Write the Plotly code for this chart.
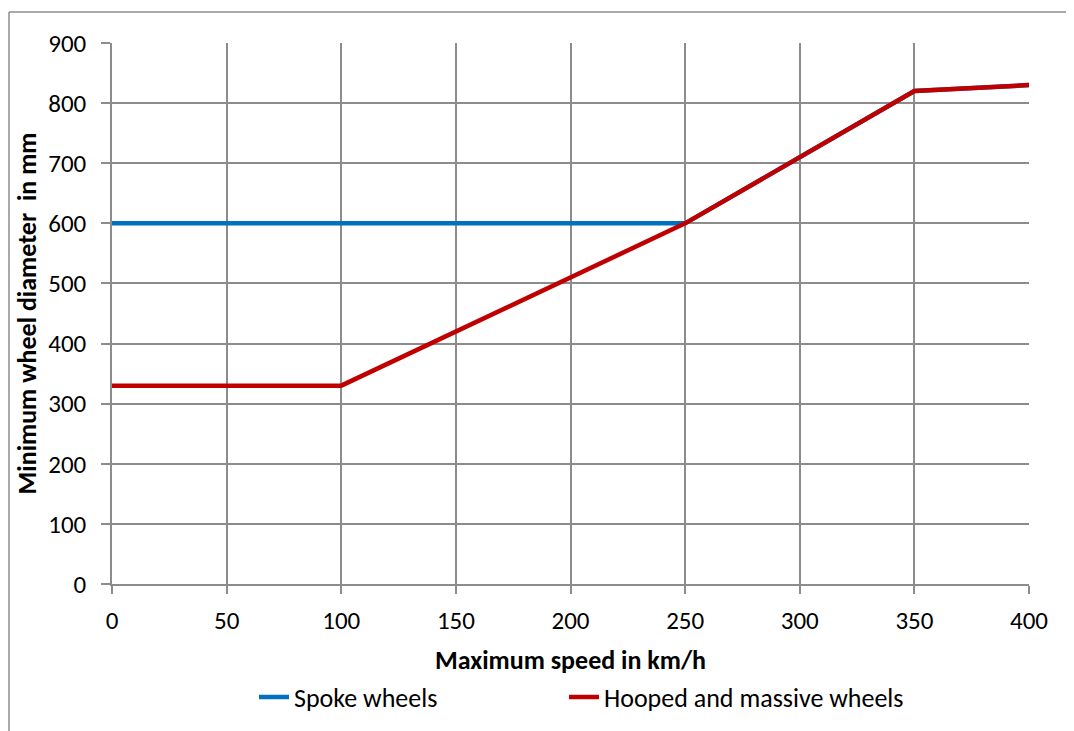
import plotly.graph_objects as go

speed_spoke = [0, 250, 300, 350, 400]
diam_spoke = [600, 600, 710, 820, 830]
speed_hooped = [0, 100, 250, 300, 350, 400]
diam_hooped = [330, 330, 600, 710, 820, 830]
x_ticks = [0, 50, 100, 150, 200, 250, 300, 350, 400]
y_ticks = [0, 100, 200, 300, 400, 500, 600, 700, 800, 900]

FONT = "Carlito, Lato, sans-serif"
GRID = "#8c8c8c"
FS = 25

fig = go.Figure()
fig.add_trace(go.Scatter(x=speed_spoke, y=diam_spoke, mode="lines", name="Spoke wheels",
                         line=dict(color="#0070C0", width=4.5), legend="legend"))
fig.add_trace(go.Scatter(x=speed_hooped, y=diam_hooped, mode="lines", name="Hooped and massive wheels",
                         line=dict(color="#C00000", width=4.5), legend="legend2"))

# page has an 8px body margin; figure is drawn at (8, 8)
OFF = 8
W, H = 1074 - OFF, 731 - OFF
PL, PR, PT, PB = 112, 1029, 43, 585  # plot area in page pixels
L, T = PL - OFF, PT - OFF
R, B = W - (PR - OFF), H - (PB - OFF)
pw, ph = PR - PL, PB - PT

def px(x):
    return (x - PL) / pw

def py(y):
    return (PB - y) / ph

leg_common = dict(orientation="h", xanchor="left", y=py(697), yanchor="middle",
                  font=dict(size=26), itemwidth=30, bgcolor="rgba(0,0,0,0)")

fig.update_layout(
    width=W, height=H,
    margin=dict(l=L, r=R, t=T, b=B),
    paper_bgcolor="white", plot_bgcolor="white",
    font=dict(family=FONT, size=FS, color="black"),
    showlegend=True,
    legend=dict(x=px(254), **leg_common),
    legend2=dict(x=px(564), **leg_common),
    xaxis=dict(range=[0, 400], tickvals=x_ticks, showgrid=True, gridcolor=GRID, gridwidth=1.5,
               showline=True, linecolor=GRID, linewidth=1.5, ticks="outside", ticklen=8,
               tickcolor=GRID, tickwidth=1.5, zeroline=False, ticklabelstandoff=5,
               title=dict(text="<b>Maximum speed in km/h</b>", font=dict(size=26), standoff=16)),
    yaxis=dict(range=[0, 900], tickvals=y_ticks, showgrid=True, gridcolor=GRID, gridwidth=1.5,
               showline=True, linecolor=GRID, linewidth=1.5, ticks="outside", ticklen=9,
               tickcolor=GRID, tickwidth=1.5, zeroline=False, ticklabelstandoff=10,
               title=dict(text="<b>Minimum wheel diameter  in mm</b>", font=dict(size=26), standoff=4)),
)

# chart outer border (left and top visible)
fig.add_shape(type="line", xref="paper", yref="paper", x0=px(9), x1=px(9), y0=py(12), y1=py(760),
              line=dict(color="#8c8c8c", width=1.5))
fig.add_shape(type="line", xref="paper", yref="paper", x0=px(9), x1=px(1074), y0=py(12), y1=py(12),
              line=dict(color="#8c8c8c", width=1.5))

fig.write_html("out.html")
